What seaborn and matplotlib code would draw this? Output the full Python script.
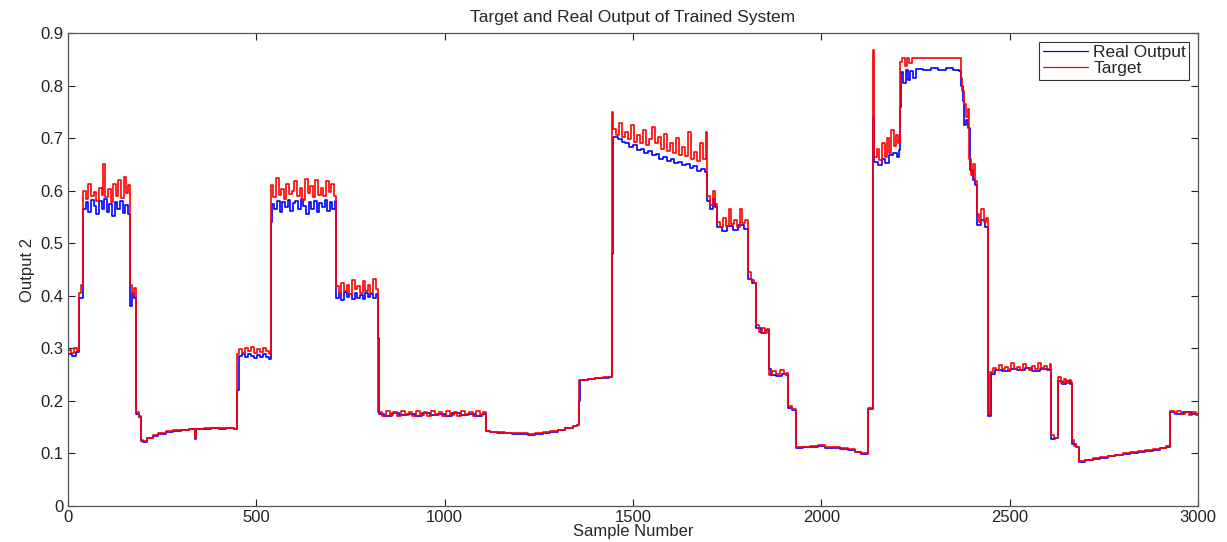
import numpy as np
import pandas as pd
import matplotlib
matplotlib.use("Agg")
import matplotlib.pyplot as plt
import seaborn as sns

# ---- data: run-length readings (sample where a level starts, value) ----
target_samples = [
    0, 8, 16, 24, 29, 35,
    40, 47, 54, 61, 68, 75, 82, 89, 94, 99, 106, 113, 120, 127, 134, 141, 148, 155, 160,
    165, 171, 176, 180, 188,
    194, 200, 210, 225, 240, 260, 280, 300, 320, 337, 340, 360, 380, 400, 420, 440,
    450, 455, 463, 471, 479, 487, 495, 503, 511, 519, 527, 533,
    538, 545, 552, 559, 566, 573, 580, 587, 594, 601, 608, 615, 622, 629, 636, 643, 650,
    657, 664, 671, 678, 685, 692, 699, 706,
    712, 719, 726, 733, 740, 747, 754, 761, 768, 775, 782, 789, 796, 803, 810, 817,
    824, 834, 844, 854, 864, 874, 884, 894, 904, 914, 924, 934, 944, 954, 964, 974, 984,
    994, 1004, 1014, 1024, 1034, 1044, 1054, 1064, 1074, 1084, 1094, 1102,
    1109, 1120, 1140, 1160, 1180, 1200, 1220, 1240, 1260, 1280, 1300, 1320, 1340, 1350,
    1357, 1380, 1400, 1420, 1435,
    1443, 1447, 1455, 1463, 1471, 1479, 1487, 1495, 1503, 1511, 1519, 1527, 1535, 1543,
    1551, 1559, 1567, 1575, 1583, 1591, 1599, 1607, 1615, 1623, 1631, 1639, 1647, 1655,
    1663, 1671, 1679, 1687, 1693,
    1697, 1705, 1712, 1718,
    1722, 1730, 1738, 1746, 1754, 1760, 1768, 1776, 1784, 1790, 1798,
    1805, 1812, 1820,
    1827, 1834, 1842, 1850, 1856,
    1861, 1870, 1880, 1890, 1900, 1906,
    1912, 1922,
    1933, 1950, 1970, 1990, 2010, 2030, 2050, 2070, 2090, 2105, 2115,
    2124,
    2137, 2140, 2147, 2154, 2161, 2168, 2175, 2180, 2186, 2192, 2198, 2204,
    2209, 2215, 2221, 2227, 2233, 2240,
    2370, 2374, 2378, 2383, 2388, 2393, 2398, 2403, 2408,
    2413, 2419, 2425, 2431, 2437,
    2443, 2448, 2456, 2464, 2472, 2480, 2488, 2496, 2504, 2512, 2520, 2528, 2536, 2544,
    2552, 2560, 2568, 2576, 2584, 2592, 2600, 2606,
    2610, 2618,
    2629, 2636, 2643, 2650, 2657, 2663,
    2666, 2672, 2678,
    2684, 2700, 2720, 2740, 2760, 2780, 2800, 2820, 2840, 2860, 2880, 2900, 2915,
    2926, 2935, 2945, 2955, 2965, 2975, 2985, 2995, 3000,
]
target_values = [
    0.297, 0.291, 0.300, 0.294, 0.405, 0.420,
    0.600, 0.585, 0.612, 0.590, 0.597, 0.581, 0.605, 0.592, 0.650, 0.588, 0.604, 0.579, 0.612, 0.590, 0.620, 0.586, 0.626, 0.596, 0.610,
    0.420, 0.404, 0.415, 0.178, 0.172,
    0.125, 0.123, 0.130, 0.135, 0.138, 0.142, 0.144, 0.145, 0.147, 0.130, 0.147, 0.148, 0.149, 0.148, 0.149, 0.147,
    0.290, 0.298, 0.292, 0.300, 0.294, 0.302, 0.291, 0.299, 0.293, 0.301, 0.295, 0.290,
    0.610, 0.588, 0.625, 0.592, 0.603, 0.585, 0.612, 0.594, 0.600, 0.618, 0.589, 0.605, 0.583, 0.622, 0.596, 0.608, 0.588,
    0.620, 0.592, 0.606, 0.590, 0.618, 0.598, 0.612, 0.590,
    0.418, 0.405, 0.425, 0.410, 0.420, 0.404, 0.430, 0.412, 0.418, 0.405, 0.428, 0.410, 0.420, 0.406, 0.432, 0.412,
    0.178, 0.172, 0.180, 0.173, 0.179, 0.171, 0.181, 0.174, 0.178, 0.172, 0.180, 0.173, 0.179, 0.172, 0.181, 0.174, 0.178,
    0.171, 0.180, 0.173, 0.179, 0.172, 0.181, 0.174, 0.178, 0.172, 0.180, 0.174, 0.179,
    0.143, 0.141, 0.140, 0.139, 0.138, 0.138, 0.137, 0.138, 0.140, 0.142, 0.145, 0.149, 0.153, 0.155,
    0.240, 0.242, 0.244, 0.245, 0.246,
    0.750, 0.718, 0.705, 0.728, 0.702, 0.712, 0.698, 0.725, 0.693, 0.706, 0.690, 0.715, 0.686, 0.698,
    0.722, 0.690, 0.702, 0.680, 0.708, 0.676, 0.690, 0.672, 0.700, 0.668, 0.684, 0.666, 0.712, 0.660,
    0.674, 0.656, 0.690, 0.660, 0.712,
    0.590, 0.572, 0.600, 0.575,
    0.540, 0.530, 0.548, 0.532, 0.565, 0.536, 0.545, 0.530, 0.566, 0.538, 0.545,
    0.445, 0.430, 0.425,
    0.345, 0.332, 0.338, 0.330, 0.336,
    0.250, 0.256, 0.252, 0.258, 0.251, 0.254,
    0.190, 0.185,
    0.112, 0.113, 0.114, 0.116, 0.112, 0.112, 0.110, 0.108, 0.103, 0.100, 0.100,
    0.186,
    0.868, 0.665, 0.680, 0.658, 0.690, 0.665, 0.700, 0.672, 0.715, 0.685, 0.705, 0.690,
    0.845, 0.853, 0.838, 0.853, 0.842, 0.852,
    0.815, 0.790, 0.765, 0.740, 0.755, 0.660, 0.630, 0.650, 0.618,
    0.555, 0.540, 0.565, 0.540, 0.548,
    0.175, 0.255, 0.262, 0.258, 0.268, 0.260, 0.264, 0.258, 0.272, 0.261, 0.265, 0.259, 0.270, 0.262,
    0.258, 0.266, 0.260, 0.272, 0.262, 0.266, 0.260, 0.270,
    0.135, 0.130,
    0.245, 0.235, 0.242, 0.234, 0.240, 0.236,
    0.125, 0.115, 0.112,
    0.085, 0.088, 0.091, 0.093, 0.096, 0.098, 0.100, 0.102, 0.104, 0.106, 0.108, 0.111, 0.114,
    0.180, 0.177, 0.181, 0.175, 0.179, 0.174, 0.178, 0.173, 0.173,
]

real_samples = [
    0, 10, 20, 29,
    40, 47, 54, 61, 68, 75, 82, 89, 96, 103, 110, 117, 124, 131, 138, 145, 152, 159,
    165, 170, 176, 180, 188,
    194, 200, 210, 225, 240, 260, 280, 300, 320, 337, 340, 360, 380, 400, 420, 440,
    450, 453, 461, 469, 477, 485, 493, 501, 509, 517, 525, 533,
    538, 541, 548, 555, 562, 569, 576, 583, 590, 597, 604, 611, 618, 625, 632, 639, 646,
    653, 660, 667, 674, 681, 688, 695, 702, 708,
    712, 719, 726, 733, 740, 747, 754, 761, 768, 775, 782, 789, 796, 803, 810, 817,
    824, 826, 840, 860, 880, 900, 920, 940, 960, 980, 1000, 1020, 1040, 1060, 1080, 1100,
    1109, 1120, 1140, 1160, 1180, 1200, 1220, 1240, 1260, 1280, 1300, 1320, 1340, 1350,
    1357, 1360, 1380, 1400, 1420, 1435,
    1443, 1446, 1460, 1470, 1480, 1490, 1500, 1510, 1520, 1530, 1540, 1550, 1560, 1570,
    1580, 1590, 1600, 1610, 1620, 1630, 1640, 1650, 1660, 1670, 1680, 1690,
    1697, 1705, 1712, 1718,
    1722, 1735, 1750, 1765, 1780, 1795,
    1805, 1815,
    1827, 1840, 1850,
    1861, 1865, 1880, 1895, 1905,
    1912, 1922,
    1933, 1950, 1970, 1990, 2010, 2030, 2050, 2070, 2090, 2105, 2115,
    2124,
    2137, 2140, 2150, 2160, 2170, 2180, 2190, 2200, 2205,
    2209, 2212, 2218, 2224, 2230, 2236, 2242, 2250, 2270, 2290, 2310, 2330, 2350, 2365,
    2370, 2375, 2380, 2385, 2390, 2395, 2402, 2408,
    2413, 2425, 2435,
    2443, 2450, 2460, 2480, 2500, 2520, 2540, 2560, 2580, 2600,
    2610, 2620,
    2629, 2640, 2650, 2660,
    2666, 2675,
    2684, 2700, 2720, 2740, 2760, 2780, 2800, 2820, 2840, 2860, 2880, 2900, 2915,
    2926, 2940, 2960, 2980, 3000,
]
real_values = [
    0.290, 0.286, 0.293, 0.395,
    0.565, 0.578, 0.560, 0.582, 0.570, 0.556, 0.580, 0.566, 0.585, 0.560, 0.575, 0.552, 0.578, 0.565, 0.580, 0.558, 0.572, 0.555,
    0.380, 0.405, 0.395, 0.175, 0.170,
    0.124, 0.122, 0.129, 0.134, 0.137, 0.141, 0.143, 0.145, 0.146, 0.128, 0.146, 0.147, 0.148, 0.147, 0.148, 0.146,
    0.220, 0.285, 0.289, 0.283, 0.290, 0.286, 0.282, 0.288, 0.284, 0.290, 0.283, 0.280,
    0.540, 0.575, 0.565, 0.580, 0.560, 0.578, 0.568, 0.582, 0.562, 0.576, 0.580, 0.566, 0.585, 0.570, 0.555, 0.578, 0.565,
    0.580, 0.560, 0.576, 0.568, 0.582, 0.562, 0.578, 0.566, 0.580,
    0.395, 0.405, 0.392, 0.408, 0.398, 0.404, 0.394, 0.406, 0.396, 0.402, 0.393, 0.405, 0.398, 0.403, 0.395, 0.404,
    0.320, 0.176, 0.172, 0.177, 0.173, 0.176, 0.172, 0.177, 0.173, 0.176, 0.172, 0.177, 0.173, 0.176, 0.172, 0.175,
    0.142, 0.140, 0.139, 0.138, 0.137, 0.137, 0.136, 0.137, 0.139, 0.141, 0.144, 0.148, 0.152, 0.154,
    0.200, 0.240, 0.241, 0.243, 0.244, 0.245,
    0.480, 0.703, 0.698, 0.692, 0.690, 0.684, 0.686, 0.678, 0.680, 0.672, 0.675, 0.668, 0.670, 0.660,
    0.664, 0.656, 0.660, 0.652, 0.655, 0.648, 0.650, 0.643, 0.646, 0.638, 0.641, 0.635,
    0.580, 0.565, 0.585, 0.568,
    0.530, 0.524, 0.532, 0.526, 0.535, 0.528,
    0.432, 0.425,
    0.338, 0.330, 0.334,
    0.260, 0.250, 0.248, 0.252, 0.249,
    0.186, 0.183,
    0.110, 0.112, 0.113, 0.115, 0.111, 0.111, 0.109, 0.106, 0.102, 0.099, 0.099,
    0.184,
    0.740, 0.655, 0.648, 0.660, 0.652, 0.668, 0.672, 0.665, 0.678,
    0.760, 0.825, 0.805, 0.830, 0.810, 0.828, 0.815, 0.832, 0.830, 0.834, 0.829, 0.833, 0.830, 0.828,
    0.800, 0.770, 0.725, 0.735, 0.720, 0.640, 0.620, 0.610,
    0.535, 0.545, 0.530,
    0.172, 0.252, 0.258, 0.256, 0.260, 0.258, 0.262, 0.257, 0.260, 0.258,
    0.128, 0.130,
    0.238, 0.233, 0.237, 0.232,
    0.118, 0.112,
    0.083, 0.087, 0.090, 0.092, 0.095, 0.097, 0.099, 0.101, 0.103, 0.105, 0.107, 0.110, 0.113,
    0.178, 0.176, 0.178, 0.175, 0.175,
]

series_names = ["Real Output", "Target"]
series_colors = ["#0000ff", "#ff0000"]
x_ticks = [0, 500, 1000, 1500, 2000, 2500, 3000]
y_ticks = [0, 0.1, 0.2, 0.3, 0.4, 0.5, 0.6, 0.7, 0.8, 0.9]
y_tick_labels = ["0", "0.1", "0.2", "0.3", "0.4", "0.5", "0.6", "0.7", "0.8", "0.9"]

df = pd.concat([
    pd.DataFrame({"Sample": real_samples, "Value": real_values, "Series": series_names[0]}),
    pd.DataFrame({"Sample": target_samples, "Value": target_values, "Series": series_names[1]}),
], ignore_index=True)

sns.set_style("ticks")
plt.rcParams["font.family"] = ["Liberation Sans", "DejaVu Sans"]

fig = plt.figure(figsize=(12.27, 5.42), dpi=100)
ax = fig.add_axes([0.0554, 0.0664, 0.9210, 0.8727])

sns.lineplot(data=df, x="Sample", y="Value", hue="Series",
             palette=dict(zip(series_names, series_colors)),
             estimator=None, sort=False, drawstyle="steps-post",
             linewidth=1.2, ax=ax)

ax.set_xlim(0, 3000)
ax.set_ylim(0, 0.9)
ax.set_xticks(x_ticks)
ax.set_yticks(y_ticks)
ax.set_yticklabels(y_tick_labels)
ax.tick_params(direction="in", top=True, right=True, length=5, width=0.8,
               labelsize=12, colors="#222222", pad=3)
for s in ax.spines.values():
    s.set_color("#555555")
    s.set_linewidth(0.9)

ax.set_title("Target and Real Output of Trained System", fontsize=12.5, pad=8)
ax.set_xlabel("Sample Number", fontsize=12, labelpad=-1)
ax.set_ylabel("Output 2", fontsize=12, labelpad=4)

leg = ax.legend(loc="upper right", fontsize=12.5, frameon=True, fancybox=False,
                edgecolor="#333333", framealpha=1, handlelength=2.6,
                borderaxespad=0.5, borderpad=0.2, labelspacing=0.05, handletextpad=0.3)
leg.get_frame().set_linewidth(0.8)
for line in leg.get_lines():
    line.set_linewidth(0.9)

fig.savefig("out.png", dpi=100)
